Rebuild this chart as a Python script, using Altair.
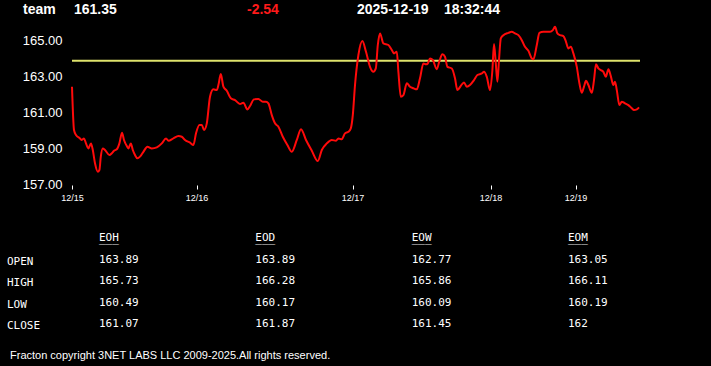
import altair as alt
import pandas as pd

# ---------------- data ----------------
symbol = "team"
last_price = "161.35"
change = "-2.54"
date_str = "2025-12-19"
time_str = "18:32:44"

t = [0, 1, 2, 4, 4.9, 6, 7, 8.2, 9.5, 10.4, 11.5, 12.9, 13.7, 14.4, 15.4, 16.5, 18.7, 19.9, 21, 22.4,
     23.7, 25, 26, 27.4, 28.2, 29.4, 30.4, 31.5, 32.7, 34, 35.7, 37.7, 39.9, 42.4, 44.9, 47, 48.2, 50.7,
     53.2, 54.9, 56.5, 59, 60.7, 62, 63.7, 64.9, 66, 67.4, 69, 70.7, 72.4, 73.2, 74.4, 75.7, 77.4, 79.4,
     81.5, 84, 85.7, 87.7, 89, 91, 93.2, 95.4, 97, 98.2, 99.9, 101.5, 103.2, 105.4, 107.7, 109.9, 112.4,
     114.5, 117, 119.9, 122.9, 124.9, 127.4, 129.9, 132, 133.2, 134.9, 136.5, 138.2, 139.4, 140.4, 141.5,
     143.2, 145.2, 147, 149, 150.7, 151.9, 152.9, 154, 155.7, 158.2, 159.9, 161, 162.4, 163.2, 164.4,
     165.7, 167.4, 169, 170.7, 172.4, 174, 175.7, 177, 177.9, 179, 180.4, 182.4, 183.7, 185.2, 186.5,
     187.7, 189.9, 191.5, 192.7, 194.4, 196, 197.4, 199, 201, 202.7, 204.9, 206, 207.4, 209, 210.2, 211,
     211.9, 212.7, 213.5, 214.4, 215.7, 218.2, 219.9, 221.5, 223.2, 224.9, 226.5, 228.2, 229.9, 230.7,
     232.4, 233.7, 235.7, 239, 240.4, 241.5, 242.7, 244, 245.7, 247, 248.2, 249.4, 250.7, 252.4, 253.7,
     254.9, 256, 257, 258.2, 259.9, 261, 262, 263.2, 264.4, 265.7, 266.9, 268.2, 269.4, 270.7, 271.5,
     272.4, 273.7, 274.9, 276.5, 278.2, 279.9, 281, 282.4, 283.5]
price = [162.44, 160.02, 159.74, 159.55, 159.46, 159.55, 159.27, 158.99, 159.27, 158.90, 158.16, 157.69,
         157.78, 158.53, 158.99, 158.90, 158.62, 158.72, 158.86, 158.94, 159.27, 159.87, 159.46, 159.12,
         158.99, 159.27, 158.90, 158.62, 158.44, 158.53, 158.80, 159.08, 158.99, 159.05, 159.27, 159.55,
         159.42, 159.55, 159.68, 159.64, 159.46, 159.31, 159.18, 159.83, 160.30, 160.30, 160.02, 160.39,
         161.88, 162.29, 162.25, 162.53, 163.15, 162.44, 162.21, 161.79, 161.69, 161.47, 161.54, 161.17,
         161.36, 161.73, 161.75, 161.60, 161.60, 161.51, 160.85, 160.39, 160.20, 159.64, 159.18, 158.80,
         159.46, 160.06, 159.46, 158.86, 158.28, 158.90, 159.27, 159.46, 159.42, 159.55, 159.50, 159.83,
         159.92, 160.11, 160.85, 162.53, 164.21, 164.99, 164.39, 163.55, 163.27, 163.46, 164.77, 165.42,
         164.86, 164.77, 164.49, 164.30, 164.39, 163.27, 161.88, 161.97, 162.63, 162.44, 162.35, 162.29,
         162.91, 163.74, 163.69, 163.74, 164.02, 163.93, 163.42, 163.87, 164.26, 164.11, 163.55, 163.46,
         162.91, 162.25, 162.49, 162.68, 162.44, 162.53, 162.81, 163.09, 163.18, 163.27, 162.99, 162.25,
         163.37, 164.82, 163.74, 162.72, 163.93, 165.14, 165.32, 165.45, 165.51, 165.42, 165.32, 165.04,
         164.67, 164.45, 164.02, 163.97, 164.77, 165.45, 165.51, 165.51, 165.60, 165.79, 165.42, 165.32,
         165.27, 164.95, 164.58, 164.67, 164.30, 163.55, 162.63, 162.10, 162.44, 162.77, 162.53, 162.10,
         162.81, 163.69, 163.46, 163.37, 163.27, 162.99, 163.41, 163.03, 162.53, 162.72, 162.25, 161.41,
         161.60, 161.51, 161.41, 161.23, 161.13, 161.17, 161.28]

tick_pos = [0, 62.3, 140.3, 209.3, 251.8]
tick_labels = ["12/15", "12/16", "12/17", "12/18", "12/19"]
y_ticks = [157, 159, 161, 163, 165]

periods = ["EOH", "EOD", "EOW", "EOM"]
row_names = ["OPEN", "HIGH", "LOW", "CLOSE"]
open_vals = [163.89, 163.89, 162.77, 163.05]
high_vals = [165.73, 166.28, 165.86, 166.11]
low_vals = [160.49, 160.17, 160.09, 160.19]
close_vals = [161.07, 161.87, 161.45, 162]
ref_level = 163.89

footer = "Fracton copyright 3NET LABS LLC 2009-2025.All rights reserved."

# ---------------- build ----------------
SANS = "Liberation Sans, Arial, sans-serif"
MONO = "DejaVu Sans Mono, monospace"

line_df = pd.DataFrame({"t": t, "v": price})
rule_df = pd.DataFrame({"v": [ref_level]})

# label expression from tick lists
expr = "''"
for p, lab in reversed(list(zip(tick_pos, tick_labels))):
    expr = f"(abs(datum.value - {p}) < 0.5 ? '{lab}' : {expr})"

x_enc = alt.X("t:Q", scale=alt.Scale(domain=[0, 284], nice=False, zero=False),
              axis=alt.Axis(values=tick_pos, labelExpr=expr, grid=False, domain=False,
                            tickColor="white", tickSize=4, offset=1, labelColor="white",
                            labelFont=SANS, labelFontSize=9, labelPadding=4, title=None,
                            labelFlush=False, labelOverlap=False))
y_enc = alt.Y("v:Q", scale=alt.Scale(domain=[157, 166], nice=False, zero=False),
              axis=alt.Axis(values=y_ticks, format=".2f", grid=False, domain=False, ticks=False,
                            tickSize=0, labelColor="white", labelFont=SANS, labelFontSize=13,
                            labelPadding=10, title=None, labelFlush=False))

line = alt.Chart(line_df).mark_line(color="#ff0a0a", strokeWidth=2, interpolate="monotone").encode(
    x=x_enc, y=y_enc)
rule = alt.Chart(rule_df).mark_rule(color="#dfe36c", strokeWidth=2).encode(y="v:Q")
plot_group = alt.layer(rule, line)

# table
rows_all = ["hdr"] + row_names
row_scale = alt.Scale(type="point", domain=rows_all, range=[215, 301], padding=0)
col_scale = alt.Scale(domain=[0, 3], range=[27, 496], nice=False, zero=False)

cells = []
for r, vals in zip(row_names, [open_vals, high_vals, low_vals, close_vals]):
    for i, v in enumerate(vals):
        cells.append({"row": r, "c": i, "txt": f"{v:g}"})
cells_df = pd.DataFrame(cells)
hdr_df = pd.DataFrame({"row": ["hdr"] * 4, "c": list(range(4)), "txt": periods,
                       "ul": ["_" * len(p) for p in periods]})
rows_df = pd.DataFrame({"row": row_names})

txt_kw = dict(font=MONO, fontSize=11, color="white", align="left", baseline="middle")
val_layer = alt.Chart(cells_df).mark_text(**txt_kw).encode(
    x=alt.X("c:Q", scale=col_scale, axis=None),
    y=alt.Y("row:N", scale=row_scale, axis=None), text="txt:N")
hdr_layer = alt.Chart(hdr_df).mark_text(**txt_kw).encode(
    x=alt.X("c:Q", scale=col_scale, axis=None),
    y=alt.Y("row:N", scale=row_scale, axis=None), text="txt:N")
ul_layer = alt.Chart(hdr_df).mark_text(**txt_kw, dy=1).encode(
    x=alt.X("c:Q", scale=col_scale, axis=None),
    y=alt.Y("row:N", scale=row_scale, axis=None), text="ul:N")
rowlab_layer = alt.Chart(rows_df).mark_text(**txt_kw, dy=2).encode(
    x=alt.value(-65), y=alt.Y("row:N", scale=row_scale, axis=None), text="row:N")

def label(s, x, color="white", bold=True, size=14, y=-9):
    return alt.Chart(pd.DataFrame({"s": [s]})).mark_text(
        font=SANS, fontSize=size, fontWeight="bold" if bold else "normal", color=color,
        align="left", baseline="alphabetic").encode(x=alt.value(x), y=alt.value(y), text="s:N")

head = [label(symbol, -49), label(last_price, 2), label(change, 175, color="#ff1a1a"),
        label(date_str, 285), label(time_str, 372)]
foot = label(footer, -62, bold=False, size=11, y=336)

table_group = alt.layer(val_layer, hdr_layer, ul_layer, rowlab_layer, *head, foot)

chart = alt.layer(plot_group, table_group).resolve_scale(
    x="independent", y="independent"
).properties(
    width=568, height=161,
    padding={"left": 72, "top": 23, "right": 71, "bottom": 182},
    autosize=alt.AutoSizeParams(type="none"),
    background="black",
).configure_view(stroke=None)

chart.save("out.html", embed_options={"renderer": "svg", "actions": False})
